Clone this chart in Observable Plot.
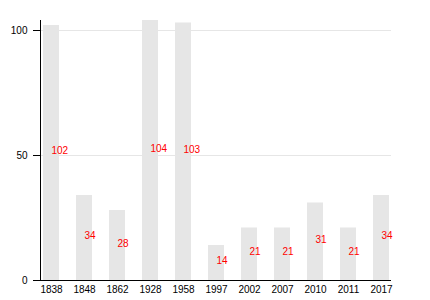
<!DOCTYPE html>
<html>
<head>
<meta charset="utf-8">
<script src="https://cdn.jsdelivr.net/npm/d3@7"></script>
<script src="https://cdn.jsdelivr.net/npm/@observablehq/plot@0.6"></script>
<style>
  html, body { margin: 0; padding: 0; background: #fff; }
</style>
</head>
<body>
<div id="chart"></div>
<script>
const years = ["1838", "1848", "1862", "1928", "1958", "1997", "2002", "2007", "2010", "2011", "2017"];
const values = [102, 34, 28, 104, 103, 14, 21, 21, 31, 21, 34];
const yTicks = [0, 50, 100];
const gridValues = [50, 100];

const data = years.map((year, i) => ({year, value: values[i]}));

const chart = Plot.plot({
  width: 430,
  height: 300,
  marginLeft: 40,
  marginRight: 39,
  marginTop: 20,
  marginBottom: 20,
  style: {fontFamily: "'Liberation Sans', Arial, sans-serif", fontSize: "10px", background: "#fff", color: "#000"},
  x: {domain: years, paddingInner: 0.52, paddingOuter: 0.03, label: null},
  y: {domain: [0, 104], label: null},
  marks: [
    Plot.ruleY(gridValues, {stroke: "#e6e6e6", strokeWidth: 1}),
    Plot.barY(data, {x: "year", y: "value", fill: "#e6e6e6"}),
    Plot.text(data, {x: "year", y: d => d.value / 2, text: d => String(d.value), fill: "#ff0000", textAnchor: "start", lineAnchor: "bottom", dy: 1, fontSize: 10}),
    Plot.axisX({tickSize: 0, tickPadding: 5, label: null}),
    Plot.axisY({ticks: yTicks, tickSize: 7, tickPadding: 6, label: null}),
    Plot.ruleY([0], {stroke: "#000"}),
    Plot.frame({anchor: "left", stroke: "#000"})
  ]
});
document.getElementById("chart").appendChild(chart);
</script>
</body>
</html>
